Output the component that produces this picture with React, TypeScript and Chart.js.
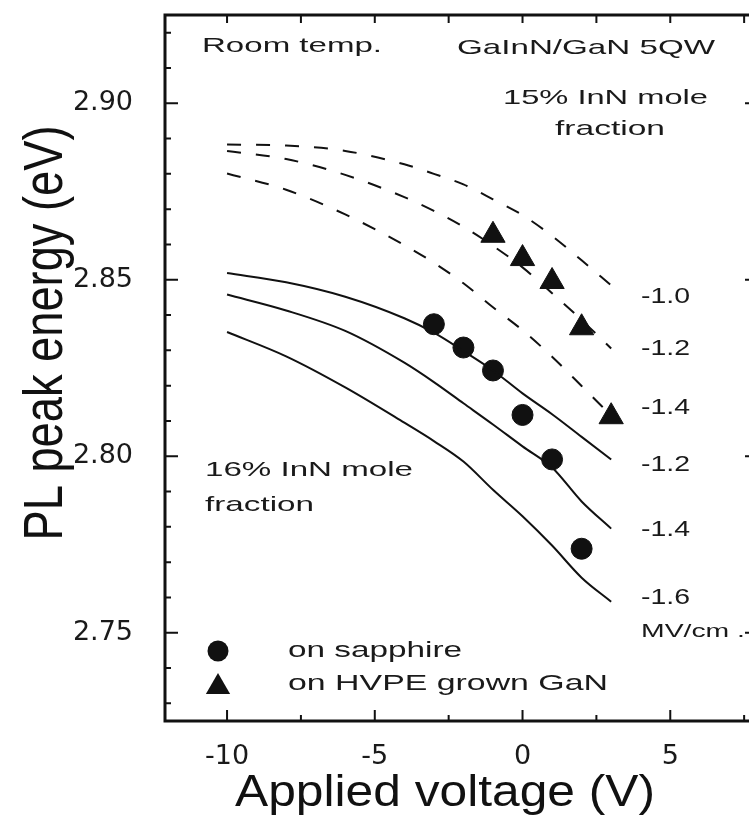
import React, { useEffect, useRef } from 'react';
import { Chart, registerables } from 'chart.js';

Chart.register(...registerables);

// ---- data ----
const curveVoltage = [-10, -8, -6, -4, -3, -2, -1, 0, 1, 2, 3];
// 16% InN mole fraction, solid lines (field in MV/cm)
const solidMinus12 = [2.8519, 2.8493, 2.8452, 2.8391, 2.8350, 2.8298, 2.8243, 2.8178, 2.8119, 2.8055, 2.7991];
const solidMinus14 = [2.8458, 2.8413, 2.8355, 2.8265, 2.8210, 2.8150, 2.8090, 2.8028, 2.7968, 2.7872, 2.7795];
const solidMinus16 = [2.8352, 2.8283, 2.8195, 2.8095, 2.8043, 2.7985, 2.7905, 2.7830, 2.7747, 2.7656, 2.7588];
// 15% InN mole fraction, dashed lines
const dashedMinus10 = [2.8883, 2.8880, 2.8865, 2.8827, 2.8800, 2.8770, 2.8728, 2.8683, 2.8624, 2.8555, 2.8484];
const dashedMinus12 = [2.8865, 2.8842, 2.8797, 2.8734, 2.8695, 2.8650, 2.8596, 2.8535, 2.8462, 2.8386, 2.8305];
const dashedMinus14 = [2.8801, 2.8755, 2.8685, 2.8598, 2.8548, 2.8490, 2.8422, 2.8357, 2.8282, 2.8199, 2.8115];
// measured points
const sapphireVoltage = [-3, -2, -1, 0, 1, 2];
const sapphireEnergy = [2.8374, 2.8308, 2.8243, 2.8117, 2.7991, 2.7738];
const hvpeVoltage = [-1, 0, 1, 2, 3];
const hvpeEnergy = [2.8626, 2.8560, 2.8495, 2.8364, 2.8112];
// axes
const xMajorTicks = [-10, -5, 0, 5];
const xMinorTicks = [-7.5, -2.5, 2.5, 7.5];
const yMajorTicks = [2.75, 2.8, 2.85, 2.9];
const xTitle = 'Applied voltage (V)';
const yTitle = 'PL peak energy (eV)';
const solidLabels = ['-1.2', '-1.4', '-1.6'];
const dashedLabels = ['-1.0', '-1.2', '-1.4'];
const legendLabels = ['on sapphire', 'on HVPE grown GaN'];

const SANS = 'Arial, "Liberation Sans", Helvetica, sans-serif';
const INK = '#111';

const pts = (xs: number[], ys: number[]) => xs.map((x, i) => ({ x, y: ys[i] }));

function stretchText(
  ctx: CanvasRenderingContext2D,
  text: string,
  x: number,
  y: number,
  size: number,
  width: number,
  align: CanvasTextAlign = 'left'
) {
  ctx.save();
  ctx.font = `${size}px ${SANS}`;
  const w = ctx.measureText(text).width;
  const sx = width / w;
  ctx.translate(x, y);
  ctx.scale(sx, 1);
  ctx.textAlign = align;
  ctx.textBaseline = 'middle';
  ctx.fillStyle = '#1a1a1a';
  ctx.fillText(text, 0, 0);
  ctx.restore();
}

const decorPlugin = {
  id: 'decor',
  afterDraw(chart: any) {
    const { ctx, chartArea: a, scales } = chart;
    const xs = scales.x;
    const ys = scales.y;
    ctx.save();
    // frame
    ctx.strokeStyle = INK;
    ctx.lineWidth = 3;
    ctx.strokeRect(a.left, a.top, a.right - a.left, a.bottom - a.top);
    // ticks
    ctx.lineWidth = 2;
    ctx.beginPath();
    xMajorTicks.forEach((v) => {
      const px = xs.getPixelForValue(v);
      ctx.moveTo(px, a.bottom);
      ctx.lineTo(px, a.bottom - 11);
      ctx.moveTo(px, a.top);
      ctx.lineTo(px, a.top + 8);
    });
    xMinorTicks.forEach((v) => {
      const px = xs.getPixelForValue(v);
      ctx.moveTo(px, a.bottom);
      ctx.lineTo(px, a.bottom - 6);
      ctx.moveTo(px, a.top);
      ctx.lineTo(px, a.top + 8);
    });
    for (let k = 273; k <= 292; k++) {
      const v = k / 100;
      const py = ys.getPixelForValue(v);
      const major = k % 5 === 0;
      ctx.moveTo(a.left, py);
      ctx.lineTo(a.left + (major ? 13 : 6), py);
      if (major) {
        ctx.moveTo(a.right, py);
        ctx.lineTo(a.right - 8, py);
      }
    }
    ctx.stroke();

    // axis titles
    ctx.fillStyle = INK;
    ctx.save();
    ctx.font = `44px ${SANS}`;
    const tw = ctx.measureText(yTitle).width;
    ctx.translate(62, 333);
    ctx.scale(1.25, 1);
    ctx.rotate(-Math.PI / 2);
    ctx.scale(415 / tw, 1);
    ctx.textAlign = 'center';
    ctx.textBaseline = 'alphabetic';
    ctx.fillText(yTitle, 0, 0);
    ctx.restore();

    ctx.save();
    ctx.font = `44px ${SANS}`;
    const xw = ctx.measureText(xTitle).width;
    ctx.translate(445, 806);
    ctx.scale(420 / xw, 1);
    ctx.textAlign = 'center';
    ctx.textBaseline = 'alphabetic';
    ctx.fillText(xTitle, 0, 0);
    ctx.restore();

    // annotations
    stretchText(ctx, 'Room temp.', 202, 46, 21, 180);
    stretchText(ctx, 'GaInN/GaN 5QW', 457, 48, 21, 258);
    stretchText(ctx, '15% InN mole', 503, 98, 21, 205);
    stretchText(ctx, 'fraction', 555, 129, 21, 110);
    stretchText(ctx, '16% InN mole', 205, 470, 21, 208);
    stretchText(ctx, 'fraction', 205, 505, 21, 109);

    const labelX = 641;
    const dashedLabelY = [297, 349, 408];
    dashedLabels.forEach((t, i) => stretchText(ctx, t, labelX, dashedLabelY[i], 22, 49));
    const solidLabelY = [465, 530, 598];
    solidLabels.forEach((t, i) => stretchText(ctx, t, labelX, solidLabelY[i], 22, 49));
    stretchText(ctx, 'MV/cm .', labelX, 632, 19, 104);

    // legend
    ctx.fillStyle = INK;
    ctx.beginPath();
    ctx.arc(218, 651, 10.5, 0, Math.PI * 2);
    ctx.fill();
    const r = 14;
    const ty = 687;
    ctx.beginPath();
    ctx.moveTo(218, ty - r);
    ctx.lineTo(218 + r * Math.sin(Math.PI / 3), ty + r / 2);
    ctx.lineTo(218 - r * Math.sin(Math.PI / 3), ty + r / 2);
    ctx.closePath();
    ctx.fill();
    stretchText(ctx, legendLabels[0], 288, 651, 22, 174);
    stretchText(ctx, legendLabels[1], 288, 684, 22, 320);

    ctx.restore();
  },
};

export default function App() {
  const ref = useRef<HTMLCanvasElement | null>(null);

  useEffect(() => {
    if (!ref.current) return;
    const lineDs = (label: string, ys: number[], dashed: boolean) => ({
      label,
      data: pts(curveVoltage, ys),
      showLine: true,
      borderColor: INK,
      borderWidth: 2,
      borderDash: dashed ? [14, 15] : [],
      pointRadius: 0,
      fill: false,
      cubicInterpolationMode: 'monotone' as const,
    });
    const chart = new Chart(ref.current, {
      type: 'scatter',
      data: {
        datasets: [
          lineDs('16% -1.2 MV/cm', solidMinus12, false),
          lineDs('16% -1.4 MV/cm', solidMinus14, false),
          lineDs('16% -1.6 MV/cm', solidMinus16, false),
          lineDs('15% -1.0 MV/cm', dashedMinus10, true),
          lineDs('15% -1.2 MV/cm', dashedMinus12, true),
          lineDs('15% -1.4 MV/cm', dashedMinus14, true),
          {
            label: legendLabels[0],
            data: pts(sapphireVoltage, sapphireEnergy),
            showLine: false,
            pointStyle: 'circle',
            pointRadius: 10.5,
            backgroundColor: INK,
            borderColor: INK,
            borderWidth: 1,
          },
          {
            label: legendLabels[1],
            data: pts(hvpeVoltage, hvpeEnergy),
            showLine: false,
            pointStyle: 'triangle',
            pointRadius: 14,
            backgroundColor: INK,
            borderColor: INK,
            borderWidth: 1,
          },
        ],
      },
      options: {
        responsive: false,
        animation: false,
        devicePixelRatio: 1,
        layout: { padding: { top: 13, right: 1, left: 0, bottom: 0 } },
        plugins: { legend: { display: false }, tooltip: { enabled: false } },
        scales: {
          x: {
            type: 'linear',
            min: -12.1,
            max: 7.8,
            grid: { display: false },
            border: { display: false },
            afterBuildTicks: (s: any) => {
              s.ticks = xMajorTicks.map((value) => ({ value }));
            },
            ticks: {
              padding: 12,
              color: '#1a1a1a',
              maxRotation: 0,
              autoSkip: false,
              font: { family: '"DejaVu Sans"', size: 27 },
              callback: (v: any) => String(v),
            },
            afterFit: (s: any) => {
              s.height = 110;
              s.paddingLeft = 0;
              s.paddingRight = 0;
            },
          },
          y: {
            type: 'linear',
            min: 2.725,
            max: 2.925,
            grid: { display: false },
            border: { display: false },
            afterBuildTicks: (s: any) => {
              s.ticks = yMajorTicks.map((value) => ({ value }));
            },
            ticks: {
              padding: 24,
              color: '#1a1a1a',
              font: { family: '"DejaVu Sans"', size: 27 },
              callback: (v: any) => Number(v).toFixed(2),
            },
            afterFit: (s: any) => {
              s.width = 165;
              s.paddingTop = 0;
              s.paddingBottom = 0;
            },
          },
        },
      },
      plugins: [decorPlugin],
    });
    return () => chart.destroy();
  }, []);

  return (
    <div
      style={{
        position: 'absolute',
        left: 0,
        top: 0,
        width: 749,
        height: 831,
        overflow: 'hidden',
        background: '#fff',
      }}
    >
      <canvas ref={ref} width={768} height={831} style={{ display: 'block', width: 768, height: 831 }} />
    </div>
  );
}
